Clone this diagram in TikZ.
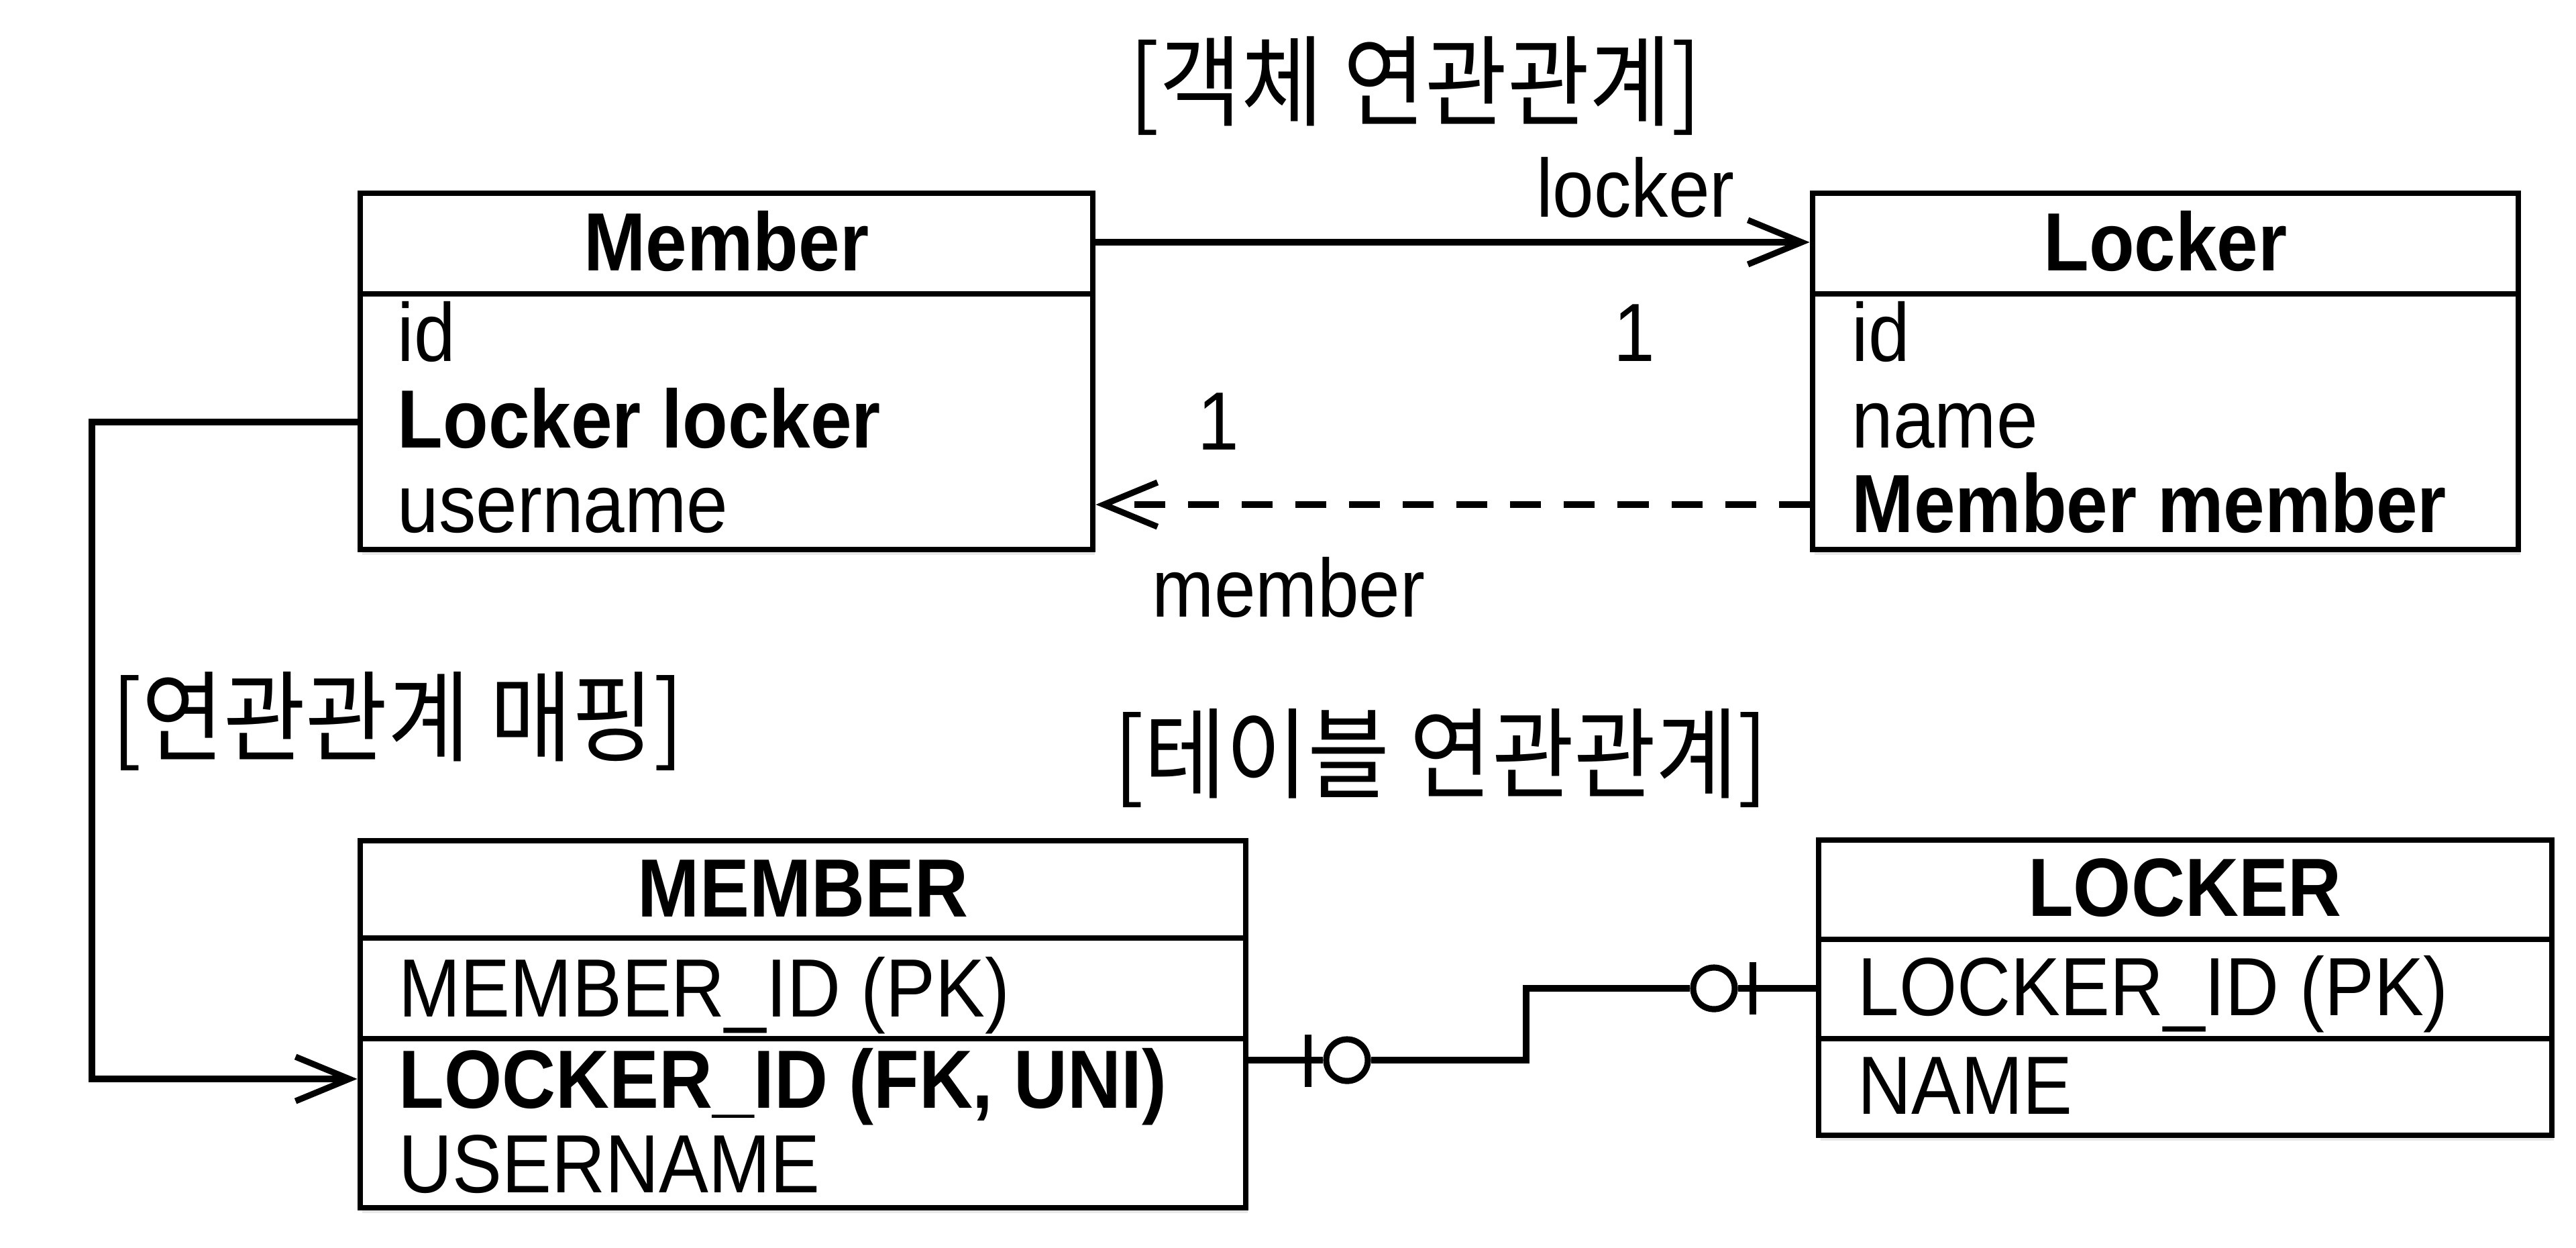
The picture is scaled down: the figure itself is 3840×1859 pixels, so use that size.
\documentclass[tikz,border=0pt]{standalone}
\usepackage{fontspec}
\setmainfont{Liberation Sans}[FakeStretch=0.9]
\newfontfamily\krfont{Noto Sans CJK KR}[FakeStretch=0.9]
\usetikzlibrary{arrows.meta,fit,shadows}
\begin{document}
\begin{tikzpicture}[x=0.01cm,y=-0.01cm,
  lw/.style={line width=2.5pt},
  box/.style={draw, lw, inner sep=0pt, fill=white,
    drop shadow={opacity=0.18, shadow xshift=0.03cm, shadow yshift=-0.08cm}},
  txt/.style={inner sep=0pt, font=\fontsize{35}{40}\selectfont},
  btxt/.style={inner sep=0pt, font=\fontsize{35}{40}\selectfont\bfseries},
  krtxt/.style={inner sep=0pt, font=\krfont\fontsize{42}{48}\selectfont},
  conn/.style={line width=2.6pt},
  arr/.style={conn, -{Straight Barb[length=0.8cm, width=0.66cm]}},
  dsh/.style={dash pattern=on 0.46cm off 0.34cm},
  ring/.style={circle, draw, conn, fill=white, inner sep=0pt, minimum size=0.62cm}
]
\useasboundingbox (0,0) rectangle (3840,1859);

% ---------- Object classes ----------
\node[box, fit={(537,288) (1629,819)}] (member) {};
\draw[lw] (member.west |- 0,438) -- (member.east |- 0,438);
\node[btxt, anchor=base] (memberh) at (1083,403) {Member};
\node[txt, anchor=base west] (m1) at (592,538) {id};
\node[btxt, anchor=base west] (m2) at (592,667) {Locker locker};
\node[txt, anchor=base west] (m3) at (592,793) {username};

\node[box, fit={(2702,288) (3754,819)}] (locker) {};
\draw[lw] (locker.west |- 0,438) -- (locker.east |- 0,438);
\node[btxt, anchor=base] (lockerh) at (3228,403) {Locker};
\node[txt, anchor=base west] (l1) at (2760,538) {id};
\node[txt, anchor=base west] (l2) at (2760,667) {name};
\node[btxt, anchor=base west] (l3) at (2760,793) {Member member};

% ---------- Tables ----------
\node[box, fit={(537,1253) (1857,1800)}] (memtab) {};
\draw[lw] (memtab.west |- 0,1398) -- (memtab.east |- 0,1398);
\draw[lw] (memtab.west |- 0,1548) -- (memtab.east |- 0,1548);
\node[btxt, anchor=base] (memtabh) at (1197,1366) {MEMBER};
\node[txt, anchor=base west] (t1) at (594,1515) {MEMBER\_ID (PK)};
\node[btxt, anchor=base west] (t2) at (594,1651) {LOCKER\_ID (FK, UNI)};
\node[txt, anchor=base west] (t3) at (594,1777) {USERNAME};

\node[box, fit={(2711,1252) (3804,1692)}] (loctab) {};
\draw[lw] (loctab.west |- 0,1400) -- (loctab.east |- 0,1400);
\draw[lw] (loctab.west |- 0,1548) -- (loctab.east |- 0,1548);
\node[btxt, anchor=base] (loctabh) at (3257,1365) {LOCKER};
\node[txt, anchor=base west] (u1) at (2769,1513) {LOCKER\_ID (PK)};
\node[txt, anchor=base west] (u2) at (2769,1660) {NAME};

% ---------- Titles ----------
\node[krtxt] (title1) at (2110,128) {[객체 연관관계]};
\node[krtxt] (title2) at (593,1075) {[연관관계 매핑]};
\node[krtxt] (title3) at (2148,1130) {[테이블 연관관계]};

% ---------- Object associations ----------
\draw[arr] (member.east |- 0,361) -- (locker.west |- 0,361);
\node[txt, anchor=base] (lbl1) at (2438,323) {locker};
\node[txt, anchor=base] (one1) at (2436,538) {1};
\draw[arr, dsh] (locker.west |- 0,752) -- (member.east |- 0,752);
\node[txt, anchor=base] (one2) at (1816,670) {1};
\node[txt, anchor=base] (lbl2) at (1921,919) {member};

% ---------- Mapping connector ----------
\coordinate (c1) at (137,629);
\coordinate (c2) at (137,1608);
\draw[arr] (member.west |- 0,629) -- (c1) -- (c2) -- (memtab.west |- 0,1608);

% ---------- ER relation ----------
\node[ring] (o1) at (2008,1580) {};
\node[ring] (o2) at (2555,1473) {};
\coordinate (b1) at (2275,1580);
\coordinate (b2) at (2275,1473);
\draw[conn] (memtab.east |- 0,1580) -- (o1.west);
\draw[conn] (o1.east) -- (b1) -- (b2) -- (o2.west);
\draw[conn] (o2.east) -- (loctab.west |- 0,1473);
\draw[conn] (1950,1542) -- (1950,1620);
\draw[conn] (2613,1434) -- (2613,1512);
\end{tikzpicture}
\end{document}
